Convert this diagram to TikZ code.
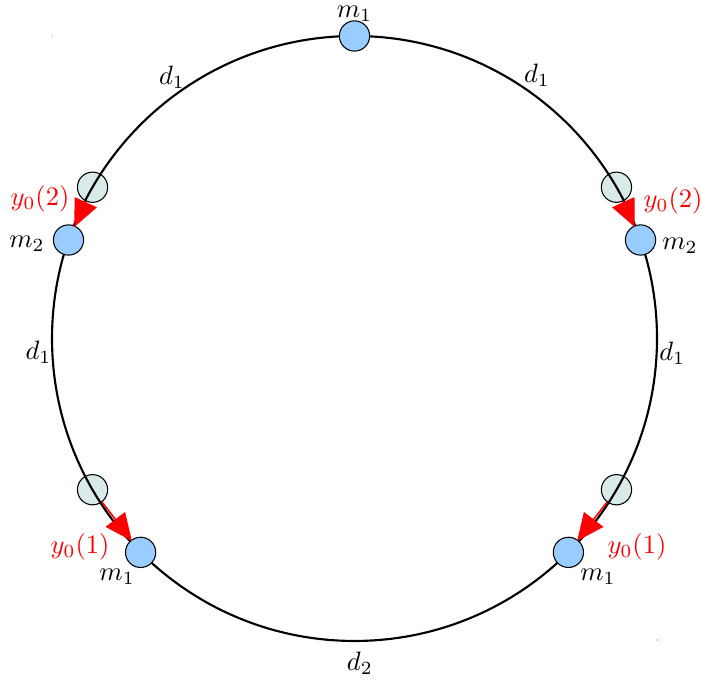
\documentclass[tikz,border=0pt]{standalone}
\usetikzlibrary{arrows.meta}
\definecolor{massblue}{RGB}{153,204,255}
\definecolor{ghost}{RGB}{216,234,234}
\definecolor{arrred}{RGB}{255,0,0}
\tikzset{
  mass/.style={circle,draw=black,line width=0.4pt,fill=massblue,minimum size=0.4cm,inner sep=0pt},
  ghostmass/.style={circle,draw=black,line width=0.4pt,fill=ghost,minimum size=0.4cm,inner sep=0pt},
  ring/.style={line width=0.8pt,black},
  disp/.style={arrred,line width=0.6pt,-{Triangle[length=0.36cm,width=0.32cm]},shorten >=-0.5pt},
  redlab/.style={text=arrred},
}
\begin{document}
\begin{tikzpicture}
\useasboundingbox (-4.688,-4.569) rectangle (4.595,4.476);
% corner specks
\fill[gray!70] (-4.0,4.0) rectangle ++(0.015,-0.02);
\fill[gray!70] (4.0,-4.0) rectangle ++(0.015,0.02);
% displaced (initial) positions
\node[ghostmass] (g1) at (30:4) {};
\node[ghostmass] (g2) at (150:4) {};
\node[ghostmass] (g3) at (210:4) {};
\node[ghostmass] (g4) at (-30:4) {};
% ring
\draw[ring] (0,0) circle (4);
% masses
\node[mass] (top) at (90:4) {};
\node[mass] (r2) at (19:4) {};
\node[mass] (l2) at (161:4) {};
\node[mass] (l1) at (225:4) {};
\node[mass] (r1) at (-45:4) {};
% displacement arrows
\draw[disp] (g1) -- (r2);
\draw[disp] (g2) -- (l2);
\draw[disp] (g3) -- (l1);
\draw[disp] (g4) -- (r1);
% labels
\node[inner sep=0pt] (ltop) at (0,4.29) {$m_1$};
\node (lr2) at (4.304,1.223) {$m_2$};
\node (ll2) at (-4.331,1.253) {$m_2$};
\node (ll1) at (-3.14,-3.154) {$m_1$};
\node (lr1) at (3.22,-3.154) {$m_1$};
\node[redlab] (yl2) at (-4.159,1.845) {$y_0(2)$};
\node[redlab] (yr2) at (4.212,1.818) {$y_0(2)$};
\node[redlab] (yl1) at (-3.63,-2.757) {$y_0(1)$};
\node[redlab] (yr1) at (3.735,-2.757) {$y_0(1)$};
\node (d1a) at (-2.413,3.458) {$d_1$};
\node (d1b) at (2.413,3.484) {$d_1$};
\node (d1c) at (-4.18,-0.18) {$d_1$};
\node (d1d) at (4.2,-0.19) {$d_1$};
\node (d2) at (0.07,-4.30) {$d_2$};
\end{tikzpicture}
\end{document}
